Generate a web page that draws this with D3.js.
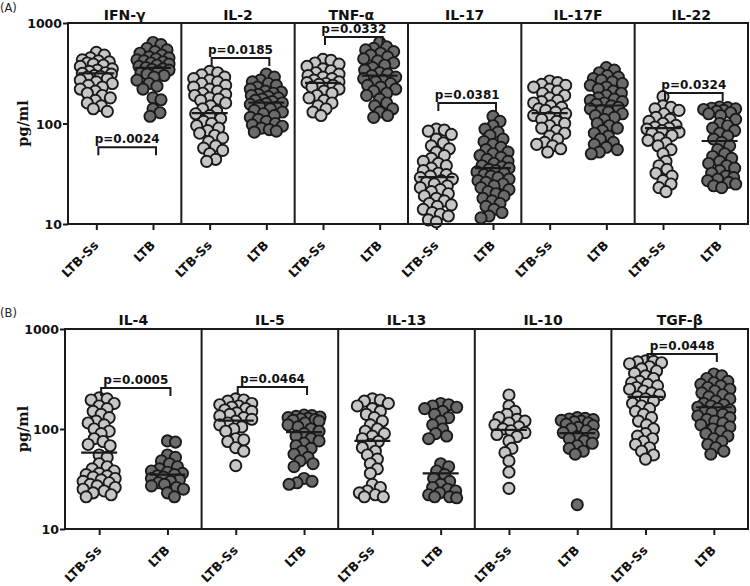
<!DOCTYPE html>
<html><head><meta charset="utf-8">
<script src="https://cdn.jsdelivr.net/npm/d3@7"></script>
<style>body{margin:0;background:#fff}svg{display:block}</style>
</head><body>
<svg id="c" width="750" height="586"></svg>
<script>
// ---------- data ----------
const groups = ["LTB-Ss", "LTB"];
const yTicks = [10, 100, 1000];

const cytokinesA = ["IFN-γ", "IL-2", "TNF-α", "IL-17", "IL-17F", "IL-22"];
const ifng_ss = [510,480,450,430,420,410,400,390,380,370,350,340,330,320,315,310,300,295,290,280,270,260,250,240,230,220,210,200,190,180,170,160,150,140,132];
const ifng_ltb = [640,610,560,540,520,500,480,460,450,440,430,420,410,400,390,380,370,360,350,345,340,330,320,310,300,290,270,250,235,220,180,172,140,128,118];
const il2_ss = [330,320,305,290,280,270,260,250,240,230,220,210,200,195,190,180,175,170,160,150,140,132,125,120,112,105,100,95,90,85,80,76,72,66,60,57,54,50,44,42];
const il2_ltb = [310,290,270,260,250,240,230,220,210,205,200,195,190,185,180,175,170,165,160,158,155,150,145,140,135,130,125,120,115,110,105,100,97,94,90,87,84,82];
const tnf_ss = [435,425,400,390,370,350,335,320,310,300,290,280,270,260,255,250,245,240,230,220,210,200,190,180,170,160,150,140,130,120];
const tnf_ltb = [640,580,560,540,520,500,480,460,440,420,400,380,360,340,320,310,300,290,280,270,260,250,240,230,220,210,200,190,175,160,150,140,130,120,115];
const il17_ss = [88,86,84,78,70,64,60,56,52,48,45,42,40,38,36,34,32,31,30,29,28,27,26,25,24,23,22,21,20,19,18,17,16,15.5,15,14,13,12.5,12,11,10.5];
const il17_ltb = [118,105,95,88,82,76,70,66,62,58,55,52,50,48,46,44,42,40,38,37,36,35,34,33,32,31,30,29,28,27,26,25,24,23,22,21,20,19,18,17,16,15,14,13,12,11.5];
const il17f_ss = [265,255,245,240,230,220,210,200,190,180,170,165,160,150,145,140,135,130,125,120,115,110,105,100,95,90,85,80,75,70,65,62,60,56,52];
const il17f_ltb = [360,340,320,300,290,280,270,260,250,240,230,220,210,200,190,180,175,170,165,160,155,150,145,140,135,130,125,120,115,110,100,95,90,85,80,75,70,65,62,58,55,52,50];
const il22_ss = [185,150,145,140,135,125,115,110,105,100,96,92,90,88,85,82,80,76,72,68,64,60,55,50,42,38,35,32,30,27,25,23,21];
const il22_ltb = [146,144,142,140,138,135,132,128,125,120,110,100,95,90,85,80,75,70,65,60,55,50,47,45,42,40,38,36,34,32,30,29,28,27,26,25,24,23];
const meansA = [[315,358],[127,161],[254,300],[29.3,36],[127,151],[90,67]];
const pTextA = ["p=0.0024","p=0.0185","p=0.0332","p=0.0381",null,"p=0.0324"];
const pLevelA = [58, 449, 726, 160, null, 201];

const cytokinesB = ["IL-4", "IL-5", "IL-13", "IL-10", "TGF-β"];
const il4_ss = [205,200,195,180,170,160,150,140,130,120,115,110,100,95,90,80,75,70,68,55,52,45,42,40,38,36,35,34,33,32,31,30,29,28,27,26,25,24,23,22,21];
const il4_ltb = [76,74,55,52,48,45,42,40,38,37,36,35,34,33,32,31,30,29,28,27,26,25,23,21];
const il5_ss = [200,195,190,180,175,170,165,160,155,150,145,140,135,130,125,120,115,110,105,100,95,80,78,75,65,60,43];
const il5_ltb = [138,136,134,132,130,128,126,124,122,120,115,110,105,100,95,90,85,80,76,72,68,64,60,56,52,48,45,42,32,30,29,28];
const il13_ss = [200,195,190,180,170,160,150,140,130,120,110,100,95,90,85,80,75,70,65,60,55,50,45,40,36,28,26,24,23,22,21,21];
const il13_ltb = [180,175,170,165,160,150,140,130,120,110,100,90,85,80,45,42,38,35,32,30,28,26,25,24,23,22,21,21,20.5];
const il10_ss = [219,170,150,140,130,125,120,115,110,105,100,96,92,88,84,76,64,58,48,37,25.5];
const il10_ltb = [130,128,126,124,122,120,118,115,112,108,104,100,96,92,88,84,80,76,72,68,64,60,56,17.5];
const tgfb_ss = [480,475,470,460,450,420,400,380,360,340,320,300,290,280,270,260,250,240,230,220,210,200,190,180,170,160,150,140,130,120,110,100,90,85,80,75,70,65,60,55,50];
const tgfb_ltb = [355,340,320,300,290,280,270,260,250,240,230,220,210,200,190,180,175,170,165,160,155,150,145,140,135,130,125,120,115,110,105,100,95,90,85,80,75,70,65,60,56];
const meansB = [[58,35],[121,93],[76,36],[98,91],[210,165]];
const pTextB = ["p=0.0005","p=0.0464",null,null,"p=0.0448"];
const pLevelB = [257, 263, null, null, 562];

// ---------- drawing ----------
const svg = d3.select("#c");
const FONT = "'DejaVu Sans', sans-serif";
const fills = ["#c6c6c6", "#6b6b6b"];
const INK = "#1a1a1a";

function swarm(vals, y) {
  const pts = vals.map(v => ({v, y: y(v)})).sort((a, b) => a.y - b.y);
  const placed = [];
  const D = 8, maxOff = 16;
  for (const p of pts) {
    let best = null, bestAlt = 0, bestScore = -1;
    for (let k = 0; k <= maxOff && best === null; k++) {
      for (const off of (k === 0 ? [0] : [k, -k])) {
        let minD = Infinity;
        for (const q of placed) { const d = Math.hypot(q.dx - off, q.y - p.y); if (d < minD) minD = d; }
        if (minD >= D) { best = off; break; }
        if (minD > bestScore) { bestScore = minD; bestAlt = off; }
      }
    }
    p.dx = best !== null ? best : bestAlt;
    placed.push(p);
  }
  return pts;
}

function panel(o) {
  const g = svg.append("g");
  const cats = [];
  o.cyt.forEach((c, i) => groups.forEach(gr => cats.push(i + "|" + gr)));
  const x = d3.scalePoint().domain(cats).range([o.x0, o.x1]).padding(0.5);
  const y = d3.scaleLog().domain([10, 1000]).range([o.yb, o.yt]);
  const bw = (o.x1 - o.x0) / o.cyt.length;

  g.append("text").attr("x", 0).attr("y", o.labY).attr("font-family", FONT)
    .attr("font-size", 11.5).attr("fill", "#222").text(o.lab);

  const ya = g.append("g").attr("transform", `translate(${o.x0},0)`)
    .call(d3.axisLeft(y).tickValues(yTicks).tickFormat(d3.format("d")).tickSize(5).tickSizeOuter(0));
  ya.select(".domain").remove();
  ya.selectAll("line").attr("stroke", INK).attr("stroke-width", 2);
  ya.selectAll("text").attr("font-family", FONT).attr("font-weight", "bold")
    .attr("font-size", 12.5).attr("fill", "#111").attr("x", -6).attr("dy", "0.36em");

  g.append("text").attr("transform", `translate(28,${(o.yt + o.yb) / 2}) rotate(-90)`)
    .attr("text-anchor", "middle").attr("font-family", "'DejaVu Serif', serif")
    .attr("font-weight", "bold").attr("font-size", 14.5).attr("fill", "#111").text("pg/ml");

  const xa = g.append("g").attr("transform", `translate(0,${o.yb})`)
    .call(d3.axisBottom(x).tickSize(6).tickSizeOuter(0).tickFormat(() => ""));
  xa.select(".domain").remove();
  xa.selectAll("line").attr("stroke", INK).attr("stroke-width", 2);
  xa.selectAll("text").remove();
  g.append("g").selectAll("text").data(cats).join("text")
    .attr("transform", d => `translate(${x(d) + 3},${o.yb + 22}) rotate(-45)`)
    .attr("text-anchor", "end").attr("font-family", FONT).attr("font-weight", "bold")
    .attr("font-size", 12.5).attr("fill", "#111").text(d => d.split("|")[1]);

  o.cyt.forEach((c, i) => {
    const cx = (x(i + "|" + groups[0]) + x(i + "|" + groups[1])) / 2;
    g.append("text").attr("x", cx).attr("y", o.titleY).attr("text-anchor", "middle")
      .attr("font-family", FONT).attr("font-weight", "bold").attr("font-size", 14)
      .attr("fill", "#111").text(c);
  });

  o.cyt.forEach((c, i) => {
    groups.forEach((gr, j) => {
      const cx = x(i + "|" + gr);
      const pts = swarm(o.data[i][j], y);
      g.append("g").selectAll("circle").data(pts).join("circle")
        .attr("cx", d => cx + d.dx).attr("cy", d => d.y).attr("r", 5.6)
        .attr("fill", fills[j]).attr("stroke", INK).attr("stroke-width", 1.9);
      g.append("line").attr("x1", cx - 18).attr("x2", cx + 18)
        .attr("y1", y(o.means[i][j])).attr("y2", y(o.means[i][j]))
        .attr("stroke", INK).attr("stroke-width", 2.2);
    });
    if (o.pText[i]) {
      const xa1 = x(i + "|" + groups[0]) + 2, xa2 = x(i + "|" + groups[1]) + 3;
      const yb = y(o.pLevel[i]);
      g.append("path").attr("d", `M${xa1},${yb + 8}V${yb}H${xa2}V${yb + 8}`)
        .attr("fill", "none").attr("stroke", INK).attr("stroke-width", 2);
      g.append("text").attr("x", (xa1 + xa2) / 2).attr("y", yb - 4).attr("text-anchor", "middle")
        .attr("font-family", FONT).attr("font-weight", "bold").attr("font-size", 12)
        .attr("fill", "#111").text(o.pText[i]);
    }
  });

  g.append("rect").attr("x", o.x0).attr("y", o.yt).attr("width", o.x1 - o.x0).attr("height", o.yb - o.yt)
    .attr("fill", "none").attr("stroke", INK).attr("stroke-width", 2);
  for (let k = 1; k < o.cyt.length; k++) {
    g.append("line").attr("x1", o.x0 + k * bw).attr("x2", o.x0 + k * bw)
      .attr("y1", o.yt).attr("y2", o.yb).attr("stroke", INK).attr("stroke-width", 2);
  }
}

panel({lab: "(A)", labY: 12, cyt: cytokinesA, x0: 68, x1: 748, yt: 23, yb: 224, titleY: 20,
  data: [[ifng_ss, ifng_ltb], [il2_ss, il2_ltb], [tnf_ss, tnf_ltb], [il17_ss, il17_ltb], [il17f_ss, il17f_ltb], [il22_ss, il22_ltb]],
  means: meansA, pText: pTextA, pLevel: pLevelA});
panel({lab: "(B)", labY: 317, cyt: cytokinesB, x0: 65, x1: 748, yt: 329, yb: 529, titleY: 325,
  data: [[il4_ss, il4_ltb], [il5_ss, il5_ltb], [il13_ss, il13_ltb], [il10_ss, il10_ltb], [tgfb_ss, tgfb_ltb]],
  means: meansB, pText: pTextB, pLevel: pLevelB});
</script>
</body></html>
